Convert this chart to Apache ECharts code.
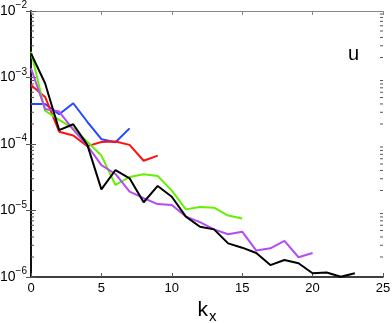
<!DOCTYPE html>
<html>
<head>
<meta charset="utf-8">
<script src="https://cdn.jsdelivr.net/npm/echarts@6/dist/echarts.min.js"></script>
<style>
  html, body { margin: 0; padding: 0; background: #fff; }
  #chart { width: 392px; height: 323px; }
</style>
</head>
<body>
<div id="chart"></div>
<script>
// spectra of u versus k_x, one line per case (x = index k)
var blueVals    = [4.0e-4, 4.0e-4, 2.8e-4, 4.1e-4, 2.16e-4, 1.18e-4, 1.06e-4, 1.72e-4];
var redVals     = [7.7e-4, 5.1e-4, 1.53e-4, 1.34e-4, 9.3e-5, 1.07e-4, 1.09e-4, 9.7e-5, 5.6e-5, 6.7e-5];
var greenVals   = [2.44e-3, 3.17e-4, 2.3e-4, 1.72e-4, 1.08e-4, 6.7e-5, 2.42e-5, 3.19e-5, 3.5e-5, 3.3e-5,
                   1.99e-5, 1.04e-5, 1.13e-5, 1.1e-5, 8.4e-6, 7.6e-6];
var magentaVals = [1.37e-3, 3.36e-4, 3.08e-4, 1.65e-4, 9.5e-5, 4.8e-5, 3.54e-5, 1.92e-5, 1.53e-5, 1.25e-5,
                   1.21e-5, 8.1e-6, 6.7e-6, 5.2e-6, 4.4e-6, 4.8e-6, 2.5e-6, 2.7e-6, 3.5e-6, 1.98e-6, 2.3e-6];
var blackVals   = [2.31e-3, 8.2e-4, 1.62e-4, 1.98e-4, 9.7e-5, 2.08e-5, 4.06e-5, 3.05e-5, 1.33e-5, 2.34e-5,
                   1.61e-5, 8.1e-6, 5.7e-6, 5.2e-6, 3.2e-6, 2.76e-6, 2.3e-6, 1.51e-6, 1.8e-6, 1.61e-6,
                   1.14e-6, 1.17e-6, 1.01e-6, 1.14e-6];

// log minor tick positions (2..9 times each decade)
var minorVals = [];
[1e-6, 1e-5, 1e-4, 1e-3].forEach(function (d) {
  for (var m = 2; m <= 9; m++) minorVals.push(m * d);
});

function pairs(arr) {
  return arr.map(function (v, i) { return [i, v]; });
}

function lineSeries(name, vals, color) {
  return {
    name: name,
    type: 'line',
    data: pairs(vals),
    symbol: 'none',
    lineStyle: { color: color, width: 2 },
    z: 3
  };
}

var chart = echarts.init(document.getElementById('chart'), null, { renderer: 'canvas' });

var axisCol = '#000';
var font = 'Liberation Sans, Arial, sans-serif';

var option = {
  animation: false,
  backgroundColor: '#fff',
  textStyle: { fontFamily: font },
  title: {
    text: 'u',
    left: 343,
    top: 39,
    textStyle: { fontSize: 20, fontWeight: 'normal', color: '#000', fontFamily: font }
  },
  grid: { left: 31, right: 9, top: 11, bottom: 46, containLabel: false, outerBoundsMode: 'none' },
  xAxis: [{
    type: 'value',
    min: 0, max: 25, interval: 5,
    position: 'bottom',
    axisLine: { show: true, lineStyle: { color: axisCol, width: 1.5 } },
    axisTick: { show: true, inside: true, length: 4, lineStyle: { color: '#555' } },
    axisLabel: { fontSize: 13, color: '#000', margin: 5 },
    splitLine: { show: false },
    name: '{k|k}{s|x}',
    nameLocation: 'middle',
    nameGap: 16,
    nameTextStyle: {
      rich: {
        k: { fontSize: 21, color: '#000', fontFamily: font },
        s: { fontSize: 15, color: '#000', fontFamily: font, padding: [12, 0, 0, 1] }
      }
    }
  }, {
    type: 'value',
    min: 0, max: 25, interval: 5,
    position: 'top',
    axisLine: { show: true, lineStyle: { color: '#888', width: 1 } },
    axisTick: { show: true, inside: true, length: 4, lineStyle: { color: '#888' } },
    axisLabel: { show: false },
    splitLine: { show: false }
  }],
  yAxis: [{
    type: 'log',
    logBase: 10,
    min: 1e-6, max: 1e-2,
    position: 'left',
    axisLine: { show: true, lineStyle: { color: axisCol, width: 1.5 } },
    axisTick: { show: true, inside: true, length: 5, lineStyle: { color: '#555' } },
    axisLabel: {
      color: '#000',
      margin: 4,
      formatter: function (v) {
        var e = Math.round(Math.log10(v));
        return '{b|10}{e|\u2212' + (-e) + '}';
      },
      rich: {
        b: { fontSize: 14, color: '#000', fontFamily: font },
        e: { fontSize: 10, color: '#000', fontFamily: font, padding: [0, 0, 11, 0] }
      }
    },
    splitLine: { show: false }
  }, {
    type: 'log',
    logBase: 10,
    min: 1e-6, max: 1e-2,
    position: 'right',
    axisLine: { show: true, lineStyle: { color: axisCol, width: 1.5 } },
    axisTick: { show: true, inside: true, length: 5, lineStyle: { color: '#555' } },
    axisLabel: { show: false },
    splitLine: { show: false }
  }],
  series: [
    lineSeries('a', blueVals, '#2448ff'),
    lineSeries('b', redVals, '#ff1010'),
    lineSeries('c', greenVals, '#66f000'),
    lineSeries('d', magentaVals, '#b34cf5'),
    lineSeries('e', blackVals, '#000000'),
    {
      // minor log ticks on the left and right frame
      type: 'custom',
      xAxisIndex: 0,
      yAxisIndex: 0,
      silent: true,
      clip: false,
      data: minorVals.map(function (v) { return [0, v]; }),
      renderItem: function (params, api) {
        var l = api.coord([0, api.value(1)]);
        var r = api.coord([25, api.value(1)]);
        return {
          type: 'group',
          children: [
            { type: 'line', shape: { x1: l[0], y1: l[1], x2: l[0] + 3, y2: l[1] }, style: { stroke: '#555', lineWidth: 1 } },
            { type: 'line', shape: { x1: r[0], y1: r[1], x2: r[0] - 3, y2: r[1] }, style: { stroke: '#555', lineWidth: 1 } }
          ]
        };
      },
      z: 1
    }
  ]
};

chart.setOption(option);
</script>
</body>
</html>
